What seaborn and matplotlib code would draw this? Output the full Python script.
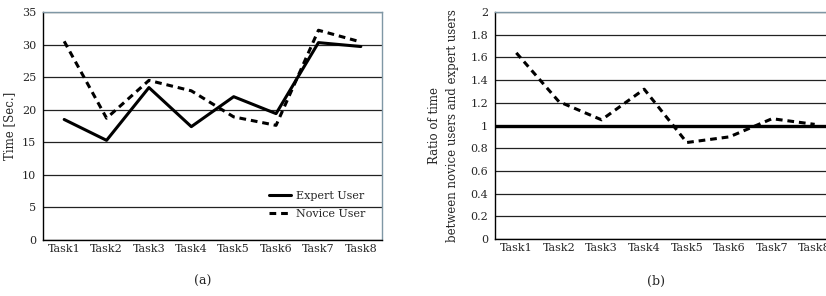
import numpy as np
import pandas as pd
import matplotlib
matplotlib.use("Agg")
import matplotlib.pyplot as plt
import seaborn as sns

tasks = ["Task1", "Task2", "Task3", "Task4", "Task5", "Task6", "Task7", "Task8"]
expert = [18.5, 15.3, 23.4, 17.4, 22.0, 19.4, 30.3, 29.7]
novice = [30.5, 18.7, 24.5, 22.9, 18.9, 17.6, 32.2, 30.4]
ratio = [1.64, 1.21, 1.05, 1.32, 0.85, 0.90, 1.06, 1.01]

sns.set_style("white")
plt.rcParams["font.family"] = ["DejaVu Serif"]
plt.rcParams["font.size"] = 8

df = pd.DataFrame({
    "task": tasks * 2,
    "time": expert + novice,
    "user": ["Expert User"] * 8 + ["Novice User"] * 8,
})
rdf = pd.DataFrame({"task": tasks, "ratio": ratio})

fig = plt.figure(figsize=(8.26, 2.96), dpi=100)
W, H = 826, 296
ax1 = fig.add_axes([43 / W, 1 - 240 / H, 339 / W, 228 / H])
ax2 = fig.add_axes([495 / W, 1 - 239 / H, 341 / W, 227 / H])


def style_axis(ax):
    ax.set_xlim(-0.5, 7.5)
    ax.set_xticks(range(8))
    ax.set_xticklabels(tasks)
    ax.set_xticks(np.arange(0.5, 7.5, 1), minor=True)
    ax.tick_params(axis="x", which="major", length=0, pad=3, labelsize=8)
    ax.tick_params(axis="x", which="minor", length=4, direction="in", width=0.8)
    ax.tick_params(axis="y", length=3, direction="out", width=0.8, pad=2, labelsize=8)
    ax.grid(axis="y", color="#222222", linewidth=0.9)
    ax.set_axisbelow(True)
    for s in ["left", "bottom"]:
        ax.spines[s].set_color("black")
        ax.spines[s].set_linewidth(1.0)
    for s in ["top", "right"]:
        ax.spines[s].set_color("#7f97a5")
        ax.spines[s].set_linewidth(1.0)
    ax.set_xlabel("")


sns.lineplot(data=df, x="task", y="time", hue="user", style="user",
             palette=["black", "black"], dashes=[(None, None), (2.2, 1.6)],
             linewidth=2.2, ax=ax1, legend=True)
ax1.set_ylim(0, 35)
ax1.set_yticks(range(0, 36, 5))
ax1.set_ylabel("Time [Sec.]", fontsize=8.5, labelpad=4)
style_axis(ax1)
leg = ax1.legend(loc="lower right", frameon=False, fontsize=8,
                 handlelength=2.0, handletextpad=0.4, labelspacing=0.65,
                 bbox_to_anchor=(0.98, 0.05))

sns.lineplot(data=rdf, x="task", y="ratio", color="black", linewidth=2.2,
             dashes=(2.2, 1.6), ax=ax2)
ax2.axhline(1.0, color="black", linewidth=2.4, zorder=1.5)
ax2.set_ylim(0, 2)
ax2.set_yticks(np.arange(0, 2.01, 0.2))
ax2.set_yticklabels(["0", "0.2", "0.4", "0.6", "0.8", "1", "1.2", "1.4", "1.6", "1.8", "2"])
ax2.set_ylabel("Ratio of time\nbetween novice users and expert users", fontsize=8.5,
               labelpad=8, linespacing=1.55)
style_axis(ax2)

fig.text(203 / W, 1 - 281 / H, "(a)", ha="center", va="center", fontsize=9)
fig.text(656 / W, 1 - 281 / H, "(b)", ha="center", va="center", fontsize=9)

fig.savefig("out.png", dpi=100)
